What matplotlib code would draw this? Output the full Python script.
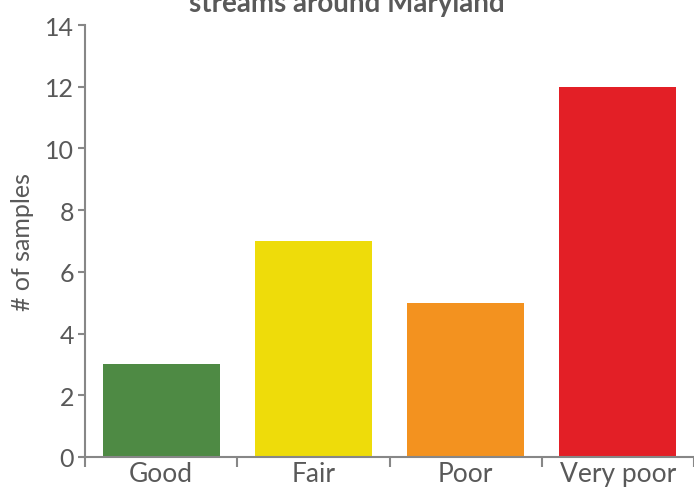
import matplotlib
matplotlib.use("Agg")
import matplotlib.pyplot as plt

categories = ["Good", "Fair", "Poor", "Very poor"]
samples = [3, 7, 5, 12]
bar_colors = ["#4E8A44", "#EEDC0A", "#F3921F", "#E31F26"]

W, H = 694, 489
text_color = "#595959"
axis_color = "#878787"

plt.rcParams["font.family"] = ["Lato", "DejaVu Sans"]

fig = plt.figure(figsize=(W / 100, H / 100), dpi=100)
ax = fig.add_axes([85 / W, (H - 458) / H, (W - 85) / W, (458 - 26) / H])

x = range(len(categories))
ax.bar(x, samples, width=0.77, color=bar_colors)

ax.set_xlim(-0.5, len(categories) - 0.5)
ax.set_ylim(0, 14)
ax.set_yticks(range(0, 15, 2))
ax.set_xticks(list(x))
ax.set_xticklabels(categories, fontsize=19, color=text_color)
ax.set_xticks([i - 0.5 for i in range(len(categories) + 1)], minor=True)
ax.tick_params(axis="x", which="major", length=0, pad=3)
ax.tick_params(axis="x", which="minor", length=7, width=1.5, color=axis_color, direction="out")
ax.tick_params(axis="y", length=5, width=1.5, color=axis_color, labelsize=18,
               labelcolor=text_color, pad=3)

for side in ["top", "right"]:
    ax.spines[side].set_visible(False)
for side in ["left", "bottom"]:
    ax.spines[side].set_color(axis_color)
    ax.spines[side].set_linewidth(1.5)

ax.set_ylabel("# of samples", fontsize=18, color=text_color, labelpad=8)

fig.text(0.5, 1 - 12 / H, "streams around Maryland", ha="center", va="baseline",
         fontsize=20, fontweight="bold", color=text_color)

fig.savefig("out.png", dpi=100)
